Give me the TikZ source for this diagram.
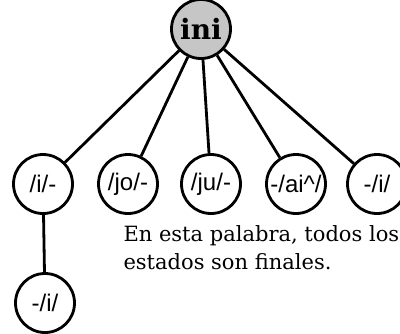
\documentclass[tikz,border=0pt]{standalone}
\usepackage{fontspec}
\setmainfont{DejaVu Serif}
\newfontfamily\labelfont{Liberation Sans}
\usepackage{tikz}

\begin{document}
\begin{tikzpicture}[x=1pt,y=-1pt,
    snode/.style={draw,circle,line width=2.8pt,minimum size=59pt,inner sep=0pt,
        font=\labelfont\fontsize{24}{24}\selectfont},
    inode/.style={snode,fill=gray!45,font=\bfseries\fontsize{28}{28}\selectfont}]
    \useasboundingbox (0,0) rectangle (400,333);

    \node[inode] (ini) at (201,29) {ini};
    \node[snode] (1) at (43,184) {/i/-};
    \node[snode] (2) at (128,184) {/jo/-};
    \node[snode] (3) at (211,184) {/ju/-};
    \node[snode] (4) at (296,184) {-/ai\^{}/};
    \node[snode] (5) at (377,184) {-/i/};
    \node[snode] (11) at (45,303) {-/i/};

    \node[anchor=west,align=left,font=\fontsize{21}{28}\selectfont] (nota) at (120,248)
        {En esta palabra, todos los\\estados son finales.};

    \draw[line width=2.8pt] (ini) -- (1);
    \draw[line width=2.8pt] (ini) -- (2);
    \draw[line width=2.8pt] (ini) -- (3);
    \draw[line width=2.8pt] (ini) -- (4);
    \draw[line width=2.8pt] (ini) -- (5);
    \draw[line width=2.8pt] (1) -- (11);
\end{tikzpicture}
\end{document}
